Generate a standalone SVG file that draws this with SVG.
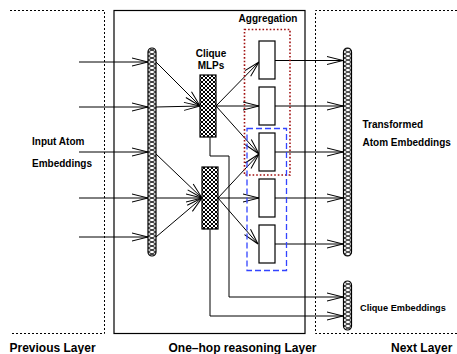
<svg xmlns="http://www.w3.org/2000/svg" width="457" height="354" viewBox="0 0 457 354">
<style>
text{font-family:"Liberation Sans","Helvetica",Arial,sans-serif;font-weight:bold;fill:#000}
.t10{font-size:10px}
.t9{font-size:9.2px}
.t12{font-size:12px}
.dot{fill:none;stroke:#000;stroke-width:1;stroke-dasharray:2 2}
.solid{fill:none;stroke:#000;stroke-width:1.2}
.ln{fill:none;stroke:#000;stroke-width:1}
.ar{marker-end:url(#ah)}
.bar{fill:url(#zig);stroke:#000;stroke-width:1.2}
.mlp{fill:url(#xh);stroke:#000;stroke-width:1.2}
.agg{fill:#fff;stroke:#000;stroke-width:1.2}
</style>
<defs>
<marker id="ah" markerUnits="userSpaceOnUse" markerWidth="20" markerHeight="10" refX="16" refY="4.5" orient="auto" overflow="visible">
<path d="M0,0.5 L16,4.5 L0,8.5" fill="none" stroke="#000" stroke-width="1"/>
</marker>
<pattern id="zig" patternUnits="userSpaceOnUse" x="148" y="0" width="8" height="4">
<rect width="8" height="4" fill="#fff"/>
<path d="M0,0 L8,4 M0,4 L8,0" stroke="#000" stroke-width="0.9"/>
</pattern>
<pattern id="xh" patternUnits="userSpaceOnUse" width="4" height="4">
<rect width="4" height="4" fill="#fff"/>
<path d="M0,0 L4,4 M4,0 L0,4" stroke="#000" stroke-width="1"/>
</pattern>
</defs>

<g id="frames">
<path class="dot" d="M10,10.5 H104.5 V333.5 H10"/>
<rect class="solid" x="114" y="10.5" width="191" height="323"/>
<path class="dot" d="M457,10.5 H315.5 V333.5 H457"/>
</g>

<g id="connectors">
<line class="ln ar" x1="79" y1="62" x2="148" y2="62"/>
<line class="ln ar" x1="79" y1="107" x2="148" y2="107"/>
<line class="ln ar" x1="79" y1="152" x2="148" y2="152"/>
<line class="ln ar" x1="79" y1="198" x2="148" y2="198"/>
<line class="ln ar" x1="79" y1="237" x2="148" y2="237"/>

<line class="ln ar" x1="156" y1="62" x2="200" y2="106"/>
<line class="ln ar" x1="156" y1="107" x2="200" y2="106"/>
<line class="ln ar" x1="156" y1="154" x2="202" y2="198"/>
<line class="ln ar" x1="156" y1="198" x2="202" y2="198"/>
<line class="ln ar" x1="156" y1="237" x2="202" y2="198"/>

<line class="ln ar" x1="216" y1="106" x2="259" y2="62"/>
<line class="ln ar" x1="216" y1="106" x2="259" y2="106"/>
<line class="ln ar" x1="216" y1="106" x2="259" y2="154"/>
<line class="ln ar" x1="218" y1="198" x2="259" y2="154"/>
<line class="ln ar" x1="218" y1="198" x2="259" y2="198"/>
<line class="ln ar" x1="218" y1="198" x2="258" y2="244"/>

<line class="ln ar" x1="275" y1="60.5" x2="343" y2="60.5"/>
<line class="ln ar" x1="275" y1="106" x2="343" y2="106"/>
<line class="ln ar" x1="271" y1="152" x2="343" y2="152"/>
<line class="ln ar" x1="275" y1="198" x2="343" y2="198"/>
<line class="ln ar" x1="275" y1="244" x2="343" y2="244"/>

<path class="ln ar" d="M210,137 V156 H229 V297 H343"/>
<path class="ln ar" d="M210,229 V316 H343"/>
</g>

<g id="input-bar"><rect class="bar" x="148" y="48" width="8" height="208" rx="4"/></g>
<g id="mlp1"><rect class="mlp" x="200" y="75" width="16" height="62"/></g>
<g id="mlp2"><rect class="mlp" x="202" y="167" width="16" height="62"/></g>
<g id="agg1"><rect class="agg" x="259" y="41" width="16" height="38"/></g>
<g id="agg2"><rect class="agg" x="259" y="87" width="16" height="38"/></g>
<g id="agg3"><rect class="agg" x="259" y="133" width="16" height="38"/></g>
<g id="agg4"><rect class="agg" x="259" y="179" width="16" height="38"/></g>
<g id="agg5"><rect class="agg" x="259" y="225" width="16" height="38"/></g>
<g id="output-bar"><rect class="bar" x="343.5" y="48" width="8" height="208" rx="4"/></g>
<g id="clique-bar"><rect class="bar" x="343.5" y="281" width="8" height="49" rx="4"/></g>

<g id="groups">
<rect x="244.5" y="29.5" width="45.5" height="145.5" fill="none" stroke="#a01010" stroke-width="1.6" stroke-dasharray="1.6 2"/>
<rect x="247" y="128.5" width="39.5" height="142" fill="none" stroke="#3344ff" stroke-width="1.3" stroke-dasharray="6 3"/>
</g>

<g id="labels">
<text class="t10" x="268" y="22" text-anchor="middle">Aggregation</text>
<text class="t10" x="211" y="57" text-anchor="middle">Clique</text>
<text class="t10" x="211" y="69" text-anchor="middle">MLPs</text>
<text class="t10" x="32" y="145">Input Atom</text>
<text class="t10" x="32" y="167">Embeddings</text>
<text class="t10" x="362.5" y="128">Transformed</text>
<text class="t10" x="362.5" y="146">Atom Embeddings</text>
<text class="t9" x="360" y="311">Clique Embeddings</text>
<text class="t12" x="9.5" y="352">Previous Layer</text>
<text class="t12" x="168.5" y="352">One–hop reasoning Layer</text>
<text class="t12" x="391" y="352">Next Layer</text>
</g>
</svg>
